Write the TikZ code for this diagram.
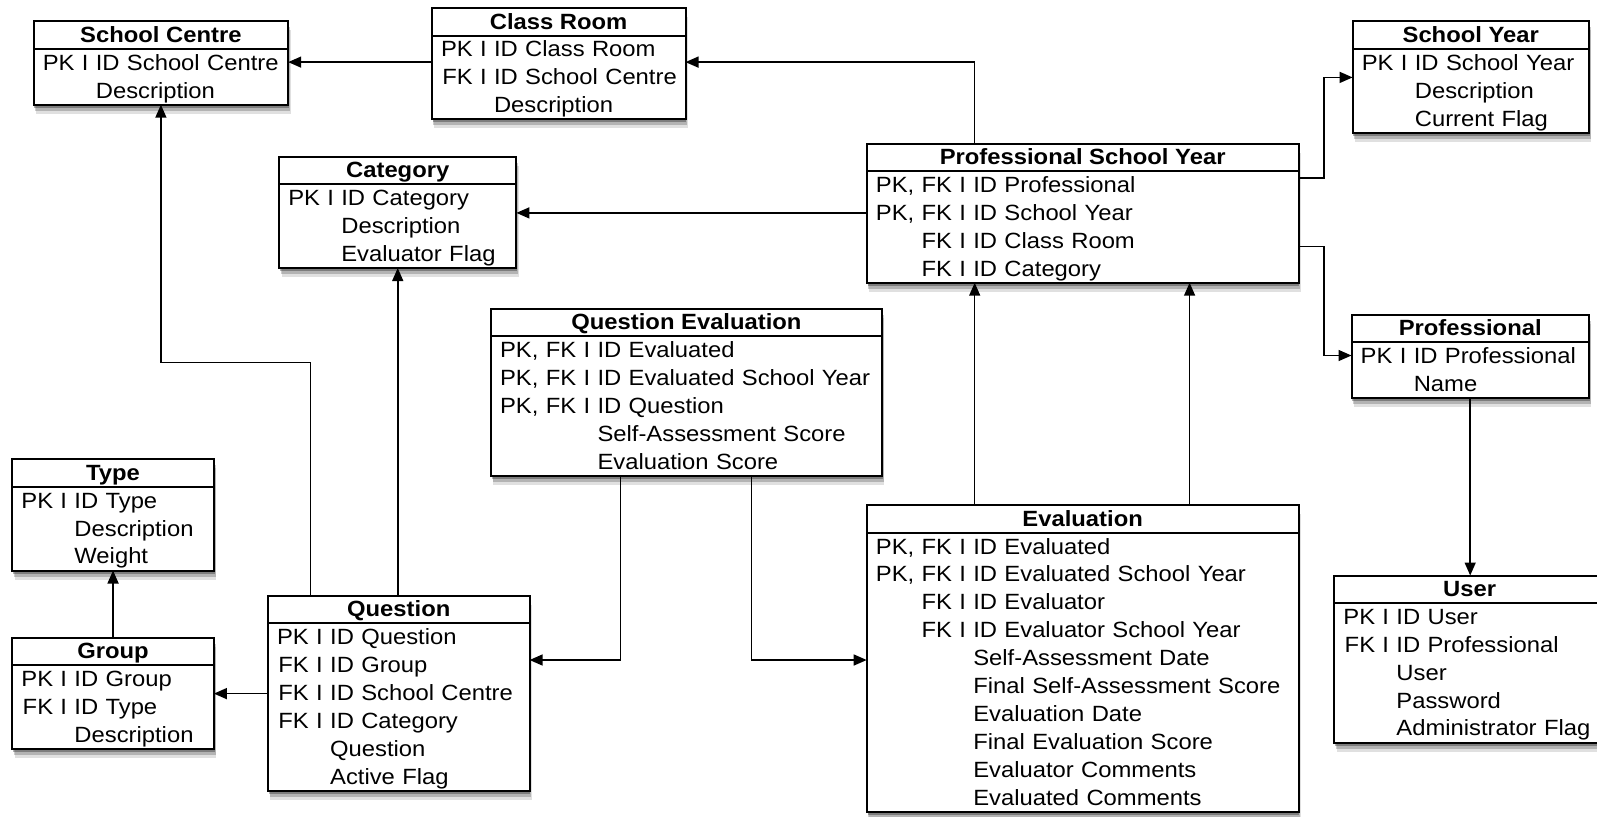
\documentclass[tikz,border=0pt]{standalone}
\usepackage{fontspec}
\setmainfont{Liberation Sans}[FakeStretch=1.08]
\usetikzlibrary{arrows.meta,shadows}
\newcommand{\tabfont}{\fontsize{11.02}{13.95}\selectfont}
\newcommand{\fields}[1]{\raisebox{-0.9pt}[\height][\depth]{%
    \begin{tabular}{@{}r@{\ }l@{}}#1\end{tabular}}}

\begin{document}
\begin{tikzpicture}[x=0.5pt,y=-0.5pt,
    tbl/.style={draw, line width=1pt, fill=white, anchor=north west,
      inner sep=0pt, outer sep=0pt, font=\tabfont,
      drop shadow={shadow xshift=0.4pt, shadow yshift=-1.5pt, opacity=.3, fill=black},
      drop shadow={shadow xshift=0.8pt, shadow yshift=-3pt, opacity=.2, fill=black},
      drop shadow={shadow xshift=1.2pt, shadow yshift=-4.5pt, opacity=.12, fill=black}},
    tblhead/.style={tbl, font=\tabfont\bfseries, minimum width=#1, minimum height=13.75pt,
      text height=7.15pt, text depth=0pt},
    tblrows/.style={tbl, inner xsep=4.6pt, text width=#1, align=left},
    fk/.style={-{Triangle[length=6.5pt,width=5.5pt]}, line width=0.75pt}]

  \useasboundingbox (0,0) rectangle (1597,816);

  % tables
  \node[tblhead=127.3pt] (sc) at (33.6,21.4) {School Centre};
  \node[tblrows=118.1pt] (sc-r) at (sc.south west) {\fields{
      PK I & ID School Centre\\ & Description}};

  \node[tblhead=126.85pt] (cr) at (431.8,8.1) {Class Room};
  \node[tblrows=117.65pt] (cr-r) at (cr.south west) {\fields{
      PK I & ID Class Room\\ FK I & ID School Centre\\ & Description}};

  \node[tblhead=118.15pt] (sy) at (1352.6,21.4) {School Year};
  \node[tblrows=108.95pt] (sy-r) at (sy.south west) {\fields{
      PK I & ID School Year\\ & Description\\ & Current Flag}};

  \node[tblhead=118.65pt] (cat) at (279.1,156.8) {Category};
  \node[tblrows=109.45pt] (cat-r) at (cat.south west) {\fields{
      PK I & ID Category\\ & Description\\ & Evaluator Flag}};

  \node[tblhead=215.95pt] (psy) at (866.7,143.6) {Professional School Year};
  \node[tblrows=206.75pt] (psy-r) at (psy.south west) {\fields{
      PK, FK I & ID Professional\\ PK, FK I & ID School Year\\
      FK I & ID Class Room\\ FK I & ID Category}};

  \node[tblhead=195.55pt] (qe) at (490.9,308.6) {Question Evaluation};
  \node[tblrows=186.35pt] (qe-r) at (qe.south west) {\fields{
      PK, FK I & ID Evaluated\\ PK, FK I & ID Evaluated School Year\\
      PK, FK I & ID Question\\ & Self-Assessment Score\\ & Evaluation Score}};

  \node[tblhead=118.7pt] (pro) at (1351.5,314.7) {Professional};
  \node[tblrows=109.5pt] (pro-r) at (pro.south west) {\fields{
      PK I & ID Professional\\ & Name}};

  \node[tblhead=100.85pt] (typ) at (12.2,459.3) {Type};
  \node[tblrows=91.65pt] (typ-r) at (typ.south west) {\fields{
      PK I & ID Type\\ & Description\\ & Weight}};

  \node[tblhead=100.85pt] (grp) at (12.2,637.6) {Group};
  \node[tblrows=91.65pt] (grp-r) at (grp.south west) {\fields{
      PK I & ID Group\\ FK I & ID Type\\ & Description}};

  \node[tblhead=130.85pt] (q) at (267.9,595.8) {Question};
  \node[tblrows=121.65pt] (q-r) at (q.south west) {\fields{
      PK I & ID Question\\ FK I & ID Group\\ FK I & ID School Centre\\
      FK I & ID Category\\ & Question\\ & Active Flag}};

  \node[tblhead=215.95pt] (ev) at (866.7,505.2) {Evaluation};
  \node[tblrows=206.75pt] (ev-r) at (ev.south west) {\fields{
      PK, FK I & ID Evaluated\\ PK, FK I & ID Evaluated School Year\\
      FK I & ID Evaluator\\ FK I & ID Evaluator School Year\\
      & Self-Assessment Date\\ & Final Self-Assessment Score\\
      & Evaluation Date\\ & Final Evaluation Score\\
      & Evaluator Comments\\ & Evaluated Comments}};

  \node[tblhead=135.4pt] (usr) at (1334.2,575.5) {User};
  \node[tblrows=126.2pt] (usr-r) at (usr.south west) {\fields{
      PK I & ID User\\ FK I & ID Professional\\ & User\\ & Password\\
      & Administrator Flag}};

  % foreign keys
  \draw[fk] (cr-r.west |- 0,62.1) -- (sc-r.east |- 0,62.1);
  \draw[fk] (psy.north -| 974.7,0) |- (cr-r.east |- 0,62.1);
  \draw[fk] (psy-r.west |- 0,212.9) -- (cat-r.east |- 0,212.9);
  \draw[fk] (psy-r.east |- 0,178.2) -| (1324,77.4) -- (sy-r.west |- 0,77.4);
  \draw[fk] (psy-r.east |- 0,246.5) -| (1324,355.5) -- (pro-r.west |- 0,355.5);
  \draw[fk] (pro-r.south) -- (pro-r.south |- usr.north);

  \draw[fk] (ev.north -| 974.7,0) -- (psy-r.south -| 974.7,0);
  \draw[fk] (ev.north -| 1189.6,0) -- (psy-r.south -| 1189.6,0);
  \draw[fk] (qe-r.south -| 620.3,0) |- (q-r.east |- 0,660);
  \draw[fk] (qe-r.south -| 751.7,0) |- (ev-r.west |- 0,660);

  \draw[fk] (q.north -| 310.6,0) |- (sc-r.south |- 0,362.6) -- (sc-r.south);
  \draw[fk] (q.north -| cat-r.south) -- (cat-r.south);
  \draw[fk] (q-r.west |- 0,693.6) -- (grp-r.east |- 0,693.6);
  \draw[fk] (grp.north) -- (typ-r.south);

\end{tikzpicture}
\end{document}
